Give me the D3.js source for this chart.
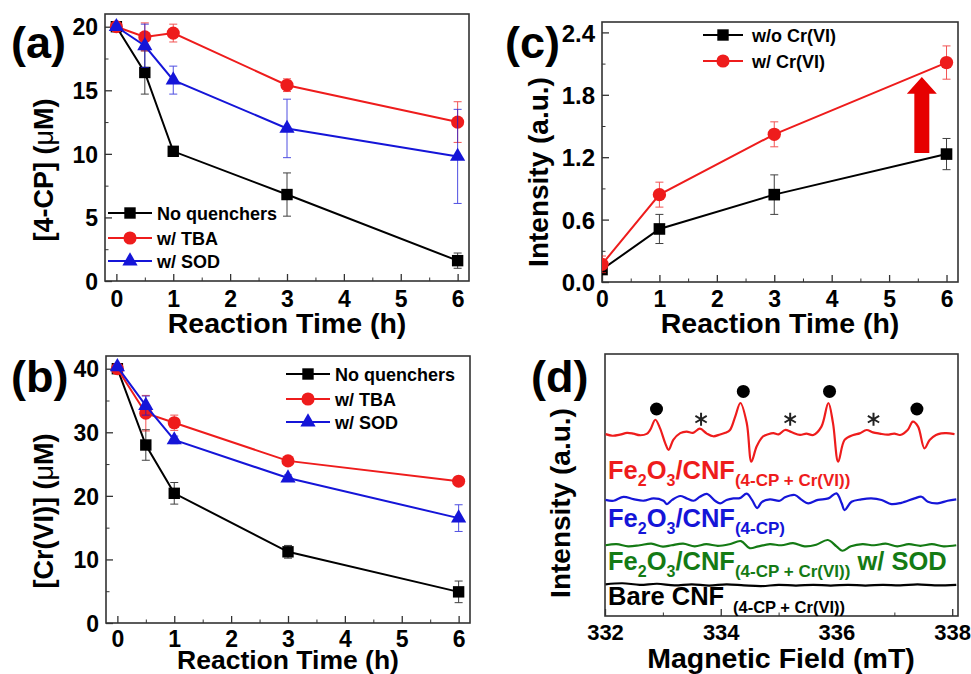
<!DOCTYPE html>
<meta charset="utf-8">
<script src="https://cdn.jsdelivr.net/npm/d3@7"></script>
<style>
body{margin:0;background:#fff;}
svg text{font-family:"Liberation Sans",Arial,sans-serif;font-weight:bold;}
.frame{fill:none;stroke:#333;stroke-width:1.6;}
</style>
<div id="vis"></div>
<script>

// ---- panel (a): [4-CP] vs time ----
var timesAB = [0, 0.5, 1, 3, 6];
var cpNoQ   = [20.0, 16.4, 10.2, 6.8, 1.6];
var cpNoQErr = [0.2, 1.7, 0.3, 1.7, 0.6];
var cpTBA   = [20.0, 19.2, 19.5, 15.4, 12.5];
var cpTBAErr = [0.2, 1.1, 0.7, 0.5, 1.6];
var cpSOD   = [20.0, 18.5, 15.8, 12.0, 9.8];
var cpSODErr = [0.2, 1.7, 1.1, 2.3, 3.7];

// ---- panel (b): [Cr(VI)] vs time ----
var crNoQ   = [40.0, 28.0, 20.4, 11.2, 4.9];
var crNoQErr = [0.3, 2.4, 1.7, 1.0, 1.7];
var crTBA   = [40.0, 33.0, 31.5, 25.5, 22.3];
var crTBAErr = [0.3, 2.8, 1.2, 0.5, 0.5];
var crSOD   = [40.3, 34.2, 28.8, 22.8, 16.5];
var crSODErr = [0.3, 1.5, 0.6, 0.5, 2.1];

// ---- panel (c): intensity vs time ----
var timesC = [0, 1, 3, 6];
var intWo  = [0.12, 0.51, 0.84, 1.23];
var intWoErr = [0.04, 0.14, 0.19, 0.15];
var intW   = [0.17, 0.84, 1.42, 2.11];
var intWErr = [0.08, 0.12, 0.12, 0.16];

var legendAB = ["No quenchers", "w/ TBA", "w/ SOD"];
var legendC = ["w/o Cr(VI)", "w/ Cr(VI)"];

// ---- panel (d): EPR spectra [field (mT), intensity (a.u.)] ----
var redTrace = [[332.01,69.4],[332.13,68.8],[332.26,69.2],[332.38,69.9],[332.49,69.6],[332.60,69.0],
  [332.72,69.5],[332.78,71.0],[332.87,74.9],[332.95,71.7],[333.04,66.0],[333.10,63.4],[333.18,67.2],
  [333.30,69.8],[333.41,70.4],[333.52,69.9],[333.64,71.5],[333.76,69.6],[333.87,68.6],[333.99,69.3],
  [334.08,69.9],[334.16,71.0],[334.25,76.1],[334.34,81.3],[334.45,73.6],[334.53,58.9],[334.62,64.7],
  [334.73,68.5],[334.82,69.4],[334.91,69.8],[335.00,69.3],[335.11,71.0],[335.22,70.2],[335.37,69.1],
  [335.48,69.6],[335.60,69.1],[335.74,72.3],[335.86,81.3],[335.94,73.6],[336.03,58.9],[336.14,67.2],
  [336.29,69.1],[336.40,69.7],[336.52,71.0],[336.63,70.1],[336.75,69.6],[336.88,69.2],[337.00,69.6],
  [337.10,69.1],[337.23,71.0],[337.32,74.2],[337.41,72.3],[337.52,64.0],[337.61,67.2],[337.72,69.1],
  [337.81,69.7],[337.90,69.8],[338.04,69.4]];
var blueTrace = [[332.01,44.3],[332.15,44.0],[332.32,45.5],[332.49,44.6],[332.67,44.0],[332.84,44.9],
  [333.01,44.0],[333.07,42.7],[333.16,44.3],[333.30,45.8],[333.41,44.9],[333.53,44.0],[333.64,45.5],
  [333.76,46.6],[333.90,44.0],[333.99,43.0],[334.10,44.3],[334.22,44.9],[334.33,45.0],[334.45,46.7],
  [334.54,44.3],[334.63,41.2],[334.71,43.5],[334.85,44.5],[335.02,44.0],[335.11,45.3],[335.28,46.2],
  [335.40,44.3],[335.51,43.0],[335.68,44.3],[335.86,44.9],[336.00,46.8],[336.09,43.0],[336.14,40.4],
  [336.26,43.6],[336.43,44.5],[336.60,44.9],[336.78,44.3],[336.95,42.7],[337.12,43.2],[337.35,44.9],
  [337.47,45.5],[337.58,43.6],[337.75,43.0],[337.92,44.0],[338.07,44.5]];
var greenTrace = [[332.01,27.0],[332.20,27.4],[332.40,26.6],[332.60,27.0],[332.80,27.6],[333.00,26.5],
  [333.15,27.0],[333.35,27.6],[333.55,26.6],[333.75,27.4],[333.95,26.8],[334.15,27.4],[334.35,28.6],
  [334.50,25.9],[334.65,26.6],[334.85,27.4],[335.05,27.0],[335.25,27.8],[335.45,26.6],[335.65,27.2],
  [335.85,29.0],[336.00,26.6],[336.10,24.9],[336.25,26.6],[336.45,27.4],[336.65,27.0],[336.85,27.6],
  [337.05,26.6],[337.25,27.4],[337.45,26.8],[337.65,27.4],[337.85,26.6],[338.07,27.0]];
var blackTrace = [[332.01,12.1],[332.30,12.5],[332.60,11.9],[332.90,12.3],[333.20,11.7],[333.50,12.1],
  [333.80,11.6],[334.10,12.1],[334.40,11.7],[334.70,11.4],[335.00,11.9],[335.30,11.6],[335.60,11.9],
  [335.90,11.6],[336.20,11.9],[336.50,11.6],[336.80,11.9],[337.10,11.7],[337.40,12.1],[337.70,11.7],
  [338.07,11.9]];
var dotFields = [332.89, 334.39, 335.88, 337.39];
var dotLevels = [79.0, 85.7, 85.7, 79.0];
var starFields = [333.66, 335.2, 336.64];
var starLevel = 75.1;

var RED = "#ee1c1c", BLUE = "#1515d8", GREEN = "#147a14", BLACK = "#000";

var svg = d3.select("#vis").append("svg").attr("width", 971).attr("height", 674);

function makePanel(box, xDom, yDom, id) {
  var x = d3.scaleLinear().domain(xDom).range([box.l, box.r]);
  var y = d3.scaleLinear().domain(yDom).range([box.b, box.t]);
  var g = svg.append("g");
  svg.append("clipPath").attr("id", id).append("rect")
    .attr("x", box.l).attr("y", box.t).attr("width", box.r - box.l).attr("height", box.b - box.t);
  return {g: g, x: x, y: y, box: box, clip: "url(#" + id + ")"};
}

function axes(p, o) {
  var b = p.box;
  if (o.xMinor) p.g.append("g").attr("transform", "translate(0," + b.b + ")").attr("color", "#333")
      .call(d3.axisBottom(p.x).tickValues(o.xMinor).tickSize(-3.5).tickFormat(""))
      .call(function(s) { s.select(".domain").remove(); });
  var xa = p.g.append("g").attr("transform", "translate(0," + b.b + ")").attr("color", "#333")
      .call(d3.axisBottom(p.x).tickValues(o.xMajor).tickSize(-7).tickFormat(o.xFmt || d3.format("d")));
  xa.select(".domain").remove();
  xa.selectAll(".tick line").attr("stroke-width", 1.3);
  xa.selectAll("text").attr("y", o.xLabDy).attr("dy", null).attr("fill", "#000")
      .style("font-size", (o.xfs || 23) + "px");
  if (o.yMajor) {
    if (o.yMinor) p.g.append("g").attr("transform", "translate(" + b.l + ",0)").attr("color", "#333")
        .call(d3.axisLeft(p.y).tickValues(o.yMinor).tickSize(-3.5).tickFormat(""))
        .call(function(s) { s.select(".domain").remove(); });
    var ya = p.g.append("g").attr("transform", "translate(" + b.l + ",0)").attr("color", "#333")
        .call(d3.axisLeft(p.y).tickValues(o.yMajor).tickSize(-7).tickFormat(o.yFmt || d3.format("d")));
    ya.select(".domain").remove();
    ya.selectAll(".tick line").attr("stroke-width", 1.3);
    ya.selectAll("text").attr("x", -7).attr("dy", "0.36em").attr("fill", "#000")
        .style("font-size", (o.yfs || 23) + "px");
  }
  p.g.append("rect").attr("class", "frame")
    .attr("x", b.l).attr("y", b.t).attr("width", b.r - b.l).attr("height", b.b - b.t);
}

function drawSeries(p, xs, vals, errs, color, sym, size, clip) {
  var pts = xs.map(function(t, i) { return {t: t, v: vals[i], e: errs[i]}; });
  var g = p.g.append("g");
  if (clip) g.attr("clip-path", p.clip);
  var eb = g.append("g").attr("stroke", color).attr("stroke-width", 1).attr("opacity", 0.75);
  pts.forEach(function(d) {
    var cx = p.x(d.t), y1 = p.y(d.v - d.e), y2 = p.y(d.v + d.e);
    eb.append("line").attr("x1", cx).attr("x2", cx).attr("y1", y1).attr("y2", y2);
    eb.append("line").attr("x1", cx - 4).attr("x2", cx + 4).attr("y1", y1).attr("y2", y1);
    eb.append("line").attr("x1", cx - 4).attr("x2", cx + 4).attr("y1", y2).attr("y2", y2);
  });
  g.append("path").datum(pts)
    .attr("d", d3.line().x(function(d) { return p.x(d.t); }).y(function(d) { return p.y(d.v); }))
    .attr("fill", "none").attr("stroke", color).attr("stroke-width", 2);
  g.selectAll(null).data(pts).enter().append("path")
    .attr("d", d3.symbol().type(sym).size(size))
    .attr("transform", function(d) { return "translate(" + p.x(d.t) + "," + p.y(d.v) + ")"; })
    .attr("fill", color);
}

function legend(p, names, colors, syms, sizes, x0, x1, tx, ys) {
  names.forEach(function(n, i) {
    p.g.append("line").attr("x1", x0).attr("x2", x1).attr("y1", ys[i]).attr("y2", ys[i])
      .attr("stroke", colors[i]).attr("stroke-width", 2);
    p.g.append("path").attr("d", d3.symbol().type(syms[i]).size(sizes[i]))
      .attr("transform", "translate(" + (x0 + x1) / 2 + "," + ys[i] + ")").attr("fill", colors[i]);
    p.g.append("text").attr("x", tx).attr("y", ys[i] + 6.5).style("font-size", "18px").text(n);
  });
}

function yTitle(cx, cy, parts, fs) {
  var t = svg.append("text").attr("transform", "translate(" + (cx + fs * 0.36) + "," + cy + ") rotate(-90)")
    .attr("text-anchor", "middle").style("font-size", fs + "px");
  parts.forEach(function(s) {
    var ts = t.append("tspan").text(s[0]);
    if (s[1]) ts.style("font-weight", "normal");
  });
}
function xTitle(cx, yb, s, fs) {
  svg.append("text").attr("x", cx).attr("y", yb).attr("text-anchor", "middle")
    .style("font-size", fs + "px").text(s);
}
function letter(x, yb, s) {
  svg.append("text").attr("x", x).attr("y", yb).style("font-size", "45px").text(s);
}

var halfTicks = [0.5, 1.5, 2.5, 3.5, 4.5, 5.5];
var hourTicks = [0, 1, 2, 3, 4, 5, 6];
var SQ = d3.symbolSquare, CI = d3.symbolCircle, TR = d3.symbolTriangle;

// ---------- (a) ----------
var pa = makePanel({l: 105, t: 14, r: 469, b: 281}, [-0.2, 6.2], [0, 21], "clipA");
axes(pa, {xMajor: hourTicks, xMinor: halfTicks, xLabDy: 26,
          yMajor: [0, 5, 10, 15, 20], yMinor: [2.5, 7.5, 12.5, 17.5]});
drawSeries(pa, timesAB, cpNoQ, cpNoQErr, BLACK, SQ, 130);
drawSeries(pa, timesAB, cpTBA, cpTBAErr, RED, CI, 135);
drawSeries(pa, timesAB, cpSOD, cpSODErr, BLUE, TR, 100);
legend(pa, legendAB, [BLACK, RED, BLUE], [SQ, CI, TR], [130, 135, 100], 108, 152, 157, [213, 238, 261]);
letter(11, 58, "(a)");
yTitle(43, 170, [["[4-CP] ("], ["\u03bc", true], ["M)"]], 27);
xTitle(287, 333, "Reaction Time (h)", 28.5);

// ---------- (b) ----------
var pb = makePanel({l: 106, t: 356, r: 470, b: 623}, [-0.2, 6.2], [0, 42], "clipB");
axes(pb, {xMajor: hourTicks, xMinor: halfTicks, xLabDy: 24,
          yMajor: [0, 10, 20, 30, 40], yMinor: [5, 15, 25, 35]});
drawSeries(pb, timesAB, crNoQ, crNoQErr, BLACK, SQ, 130);
drawSeries(pb, timesAB, crTBA, crTBAErr, RED, CI, 135);
drawSeries(pb, timesAB, crSOD, crSODErr, BLUE, TR, 100);
legend(pb, legendAB, [BLACK, RED, BLUE], [SQ, CI, TR], [130, 135, 100], 286, 330, 335, [374, 399, 422]);
letter(11, 392, "(b)");
yTitle(43, 511, [["[Cr(VI)] ("], ["\u03bc", true], ["M)"]], 27);
xTitle(288, 669, "Reaction Time (h)", 26.5);

// ---------- (c) ----------
var pc = makePanel({l: 602, t: 22, r: 958, b: 282}, [0, 6.2], [0, 2.5], "clipC");
axes(pc, {xMajor: hourTicks, xMinor: halfTicks, xLabDy: 25,
          yMajor: [0, 0.6, 1.2, 1.8, 2.4], yMinor: [0.3, 0.9, 1.5, 2.1], yFmt: d3.format(".1f"), yfs: 24});
drawSeries(pc, timesC, intWo, intWoErr, BLACK, SQ, 135, true);
drawSeries(pc, timesC, intW, intWErr, RED, CI, 140, true);
legend(pc, legendC, [BLACK, RED], [SQ, CI], [130, 135], 703, 743, 752, [35, 61]);
// red arrow: from w/o to w/ Cr(VI) near t = 6 h
(function() {
  var cx = pc.x(5.57), yb = pc.y(1.24), yh = pc.y(1.81), yt = pc.y(1.97);
  pc.g.append("polygon").attr("fill", "#e60000")
    .attr("points", [[cx - 7.5, yb], [cx + 7.5, yb], [cx + 7.5, yh], [cx + 15, yh], [cx, yt],
                     [cx - 15, yh], [cx - 7.5, yh]].join(" "));
})();
letter(505, 58, "(c)");
yTitle(538, 172, [["Intensity (a.u.)"]], 28);
xTitle(780, 333, "Reaction Time (h)", 28.5);

// ---------- (d) ----------
var pd = makePanel({l: 605, t: 354, r: 958, b: 616}, [332, 338.1], [0, 100], "clipD");
axes(pd, {xMajor: [332, 334, 336, 338], xMinor: [333, 335, 337], xLabDy: 24, xfs: 22});
var eprLine = d3.line().curve(d3.curveCatmullRom.alpha(0.5))
  .x(function(d) { return pd.x(d[0]); }).y(function(d) { return pd.y(d[1]); });
var tg = pd.g.append("g").attr("clip-path", pd.clip);
[[redTrace, RED], [blueTrace, BLUE], [greenTrace, GREEN], [blackTrace, BLACK]].forEach(function(tr) {
  tg.append("path").attr("d", eprLine(tr[0])).attr("fill", "none")
    .attr("stroke", tr[1]).attr("stroke-width", 2.2).attr("stroke-linejoin", "round");
});
pd.g.selectAll(null).data(dotFields).enter().append("circle")
  .attr("cx", function(d) { return pd.x(d); })
  .attr("cy", function(d, i) { return pd.y(dotLevels[i]); })
  .attr("r", 6.5).attr("fill", "#000");
pd.g.selectAll(null).data(starFields).enter().append("path")
  .attr("d", d3.symbol().type(d3.symbolAsterisk).size(120))
  .attr("transform", function(d) { return "translate(" + pd.x(d) + "," + pd.y(starLevel) + ")"; })
  .attr("fill", "none").attr("stroke", "#222").attr("stroke-width", 2);

function feLabel(x, yb, color, sub, extra) {
  var t = pd.g.append("text").attr("x", x).attr("y", yb).attr("fill", color).style("font-size", "25.5px");
  t.append("tspan").text("Fe");
  t.append("tspan").attr("dy", 6.5).style("font-size", "16px").text("2");
  t.append("tspan").attr("dy", -6.5).text("O");
  t.append("tspan").attr("dy", 6.5).style("font-size", "16px").text("3");
  t.append("tspan").attr("dy", -6.5).text("/CNF");
  t.append("tspan").attr("dy", 6.5).style("font-size", "17px").text(sub);
  if (extra) t.append("tspan").attr("dy", -6.5).text(extra);
}
feLabel(608, 479, RED, "(4-CP + Cr(VI))");
feLabel(608, 527, BLUE, "(4-CP)");
feLabel(608, 570, GREEN, "(4-CP + Cr(VI))", " w/ SOD");
pd.g.append("text").attr("x", 608).attr("y", 605).style("font-size", "25.5px").text("Bare CNF");
pd.g.append("text").attr("x", 733).attr("y", 612.5).style("font-size", "16.5px").text("(4-CP + Cr(VI))");
letter(531, 392, "(d)");
yTitle(560, 503, [["Intensity (a.u.)"]], 28);
xTitle(781, 668, "Magnetic Field (mT)", 28.5);

</script>
